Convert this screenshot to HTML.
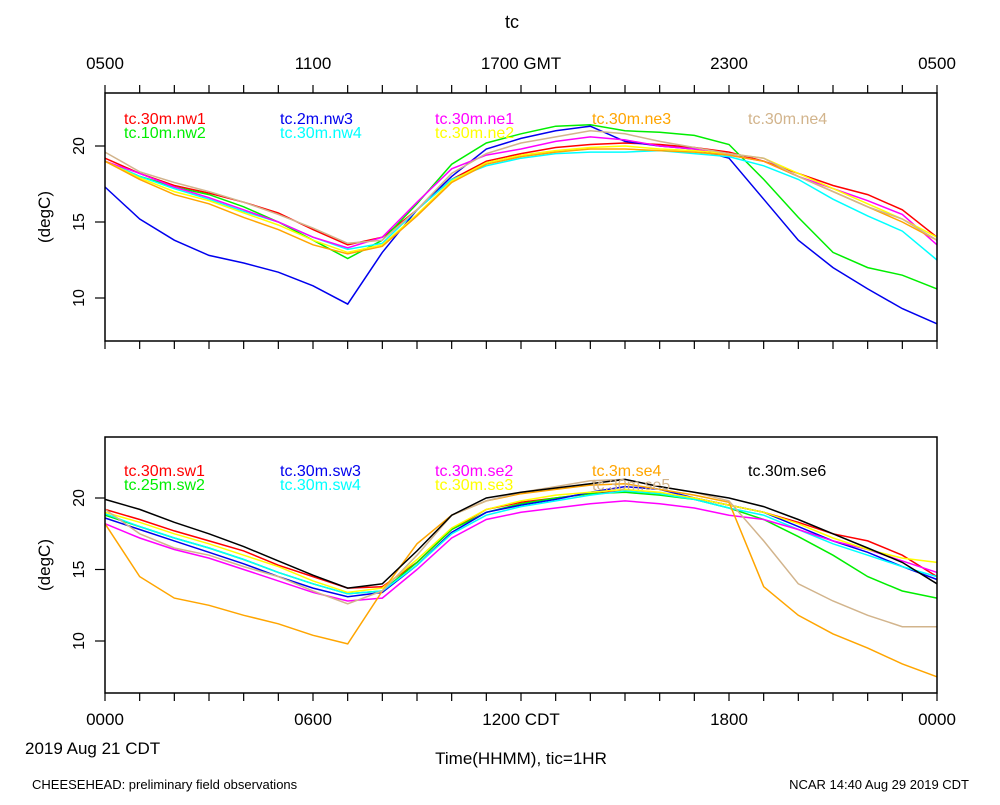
<!DOCTYPE html>
<html><head><meta charset="utf-8"><style>
body{margin:0;background:#fff}
svg text{font-family:"Liberation Sans",sans-serif}
</style></head><body>
<svg id="c" width="1000" height="800" xmlns="http://www.w3.org/2000/svg"></svg>
<script>
const hours=[0,1,2,3,4,5,6,7,8,9,10,11,12,13,14,15,16,17,18,19,20,21,22,23,24];
const topNames=["tc.30m.nw1","tc.10m.nw2","tc.2m.nw3","tc.30m.nw4","tc.30m.ne1","tc.30m.ne2","tc.30m.ne3","tc.30m.ne4"];
const topColors=["#ff0000","#00ee00","#0000ee","#00ffff","#ff00ff","#ffff00","#ffa500","#d2b48c"];
const nw1=[19.2,18.2,17.4,16.9,16.3,15.6,14.5,13.5,14.0,15.8,17.8,19.0,19.5,19.9,20.1,20.2,20.1,19.9,19.6,19.0,18.2,17.4,16.8,15.8,14.0];
const nw2=[19,18.0,17.3,16.8,16.0,15.0,13.8,12.6,13.8,16.2,18.8,20.2,20.8,21.3,21.4,21.0,20.9,20.7,20.1,17.8,15.3,13.0,12.0,11.5,10.6];
const nw3=[17.3,15.2,13.8,12.8,12.3,11.7,10.8,9.6,13.0,15.8,18.0,19.8,20.5,21.0,21.3,20.3,20.0,19.8,19.2,16.5,13.8,12.0,10.6,9.3,8.3];
const nw4=[19,18,17.2,16.5,15.7,15.0,14.0,13.2,13.6,15.8,17.8,18.7,19.2,19.5,19.6,19.6,19.7,19.5,19.3,18.7,17.8,16.5,15.4,14.4,12.5];
const ne1=[19,18.2,17.3,16.6,15.8,15.0,14.0,13.3,14.0,16.3,18.5,19.4,19.8,20.3,20.6,20.4,20.0,19.8,19.4,19.0,18.0,17.2,16.4,15.5,13.5];
const ne2=[19,17.9,17,16.4,15.6,14.8,13.8,13.0,13.5,15.5,17.7,18.9,19.4,19.7,19.9,20.0,19.8,19.7,19.5,19.2,18.2,17.2,16.2,15.2,14.0];
const ne3=[19,17.8,16.8,16.2,15.3,14.5,13.5,12.9,13.4,15.4,17.6,18.8,19.3,19.6,19.8,19.8,19.7,19.6,19.4,19.0,18.0,17.0,16.0,15.0,13.8];
const ne4=[19.6,18.3,17.6,17.0,16.3,15.5,14.6,13.6,13.8,15.8,18.2,19.5,20.2,20.6,21.0,20.8,20.3,19.9,19.5,19.2,18.0,17.0,16.0,15.2,13.8];
const botNames=["tc.30m.sw1","tc.25m.sw2","tc.30m.sw3","tc.30m.sw4","tc.30m.se2","tc.30m.se3","tc.3m.se4","tc.30m.se5","tc.30m.se6"];
const botColors=["#ff0000","#00ee00","#0000ee","#00ffff","#ff00ff","#ffff00","#ffa500","#d2b48c","#000000"];
const sw1=[19.2,18.5,17.7,17.0,16.3,15.3,14.5,13.7,13.8,15.5,17.8,19.2,19.7,20.0,20.3,20.5,20.3,20.0,19.5,19.0,18.3,17.5,17.0,16.0,14.5];
const sw2=[18.8,18.0,17.2,16.5,15.7,14.8,14.0,13.3,13.5,15.5,17.8,19.0,19.6,20.0,20.3,20.4,20.2,19.9,19.3,18.5,17.3,16.0,14.5,13.5,13.0];
const sw3=[18.6,17.8,17.0,16.2,15.4,14.5,13.7,13.1,13.4,15.3,17.6,19.0,19.5,19.9,20.4,20.8,20.6,20.0,19.5,19.0,18.0,17.0,16.2,15.2,14.3];
const sw4=[18.9,18.0,17.2,16.5,15.7,14.8,14.0,13.3,13.5,15.3,17.5,18.8,19.4,19.8,20.2,20.5,20.3,19.9,19.3,18.8,17.8,16.8,16.0,15.2,14.5];
const se2=[18.2,17.2,16.4,15.8,15.0,14.2,13.4,12.8,13.0,15.0,17.2,18.5,19.0,19.3,19.6,19.8,19.6,19.3,18.8,18.5,17.8,17.0,16.4,15.6,14.8];
const se3=[19,18.3,17.5,16.8,16,15.2,14.2,13.4,13.7,15.7,17.9,19.2,19.8,20.2,20.4,20.6,20.4,20.0,19.5,19.0,18.2,17.2,16.4,15.8,15.5];
const se4=[18.2,14.5,13.0,12.5,11.8,11.2,10.4,9.8,13.5,16.8,18.8,19.8,20.3,20.6,20.9,21.0,20.6,20.2,19.7,13.8,11.8,10.5,9.5,8.4,7.5];
const se5=[19.2,17.5,16.5,16.0,15.2,14.5,13.5,12.6,13.5,16.0,18.8,19.8,20.4,20.8,21.2,21.3,20.8,20.4,19.8,17.0,14.0,12.8,11.8,11.0,11.0];
const se6=[19.9,19.2,18.3,17.5,16.6,15.6,14.6,13.7,14.0,16.3,18.8,20.0,20.4,20.7,21.0,21.3,20.8,20.4,20.0,19.4,18.5,17.5,16.5,15.5,14.0];
const yTicks=[10,15,20];
const topXLabels=["0500","1100","1700 GMT","2300","0500"];
const botXLabels=["0000","0600","1200 CDT","1800","0000"];

const svg=document.getElementById('c');
const NS="http://www.w3.org/2000/svg";
function mk(tag,attrs,parent){const e=document.createElementNS(NS,tag);for(const k in attrs)e.setAttribute(k,attrs[k]);(parent||svg).appendChild(e);return e;}
const X0=105,X1=937;
const xs=h=>X0+(X1-X0)*h/24;
function panel(name,top,bot,v20,v10,series,names,colors,legY,topAxis,botLabels){
  const g=mk('g',{});
  
  
  const ys=v=>v10+(v-10)*(v20-v10)/10;
  series.forEach((s,i)=>{
    const pts=s.map((v,j)=>xs(hours[j]).toFixed(1)+','+ys(v).toFixed(1)).join(' ');
    const p=mk('polyline',{points:pts,fill:'none',stroke:colors[i],'stroke-width':1.5},g);
    
    
  });
  const fr=mk('rect',{x:X0,y:top,width:X1-X0,height:bot-top,fill:'none',stroke:'#000','stroke-width':1.5},g);
  
  
  for(let h=0;h<=24;h++){
    const L=8;
    if(topAxis) mk('line',{x1:xs(h),x2:xs(h),y1:top,y2:top-L,stroke:'#000','stroke-width':1.2},g);
    mk('line',{x1:xs(h),x2:xs(h),y1:bot,y2:bot+L,stroke:'#000','stroke-width':1.2},g);
  }
  yTicks.forEach(v=>{
    const y=ys(v);
    mk('line',{x1:X0,x2:X0-10,y1:y,y2:y,stroke:'#000','stroke-width':1.2},g);
    const t=mk('text',{x:0,y:0,transform:`translate(84,${y}) rotate(-90)`,'text-anchor':'middle','font-size':16},g);
    t.textContent=v;
    
    
  });
  const yl=mk('text',{x:0,y:0,transform:`translate(50,${(top+bot)/2}) rotate(-90)`,'text-anchor':'middle','font-size':17},g);
  yl.textContent='(degC)';
  
  
  const cols=[124,280,435,592,748];
  names.forEach((n,i)=>{
    let c,r;
    if(names.length===8){const order=[[0,0],[0,1],[1,0],[1,1],[2,0],[2,1],[3,0],[4,0]];[c,r]=order[i];}
    else{const order=[[0,0],[0,1],[1,0],[1,1],[2,0],[2,1],[3,0],[3,1],[4,0]];[c,r]=order[i];}
    const t=mk('text',{x:cols[c],y:legY+r*14,'font-size':16,fill:colors[i]},g);
    t.textContent=n;
    
    
  });
  if(topAxis){
    topAxis.forEach((l,i)=>{
      const t=mk('text',{x:xs(i*6),y:69,'text-anchor':'middle','font-size':17},g);
      t.textContent=l;
      
      
    });
  }
  if(botLabels){
    botLabels.forEach((l,i)=>{
      const t=mk('text',{x:xs(i*6),y:725,'text-anchor':'middle','font-size':17},g);
      t.textContent=l;
      
      
    });
  }
}
panel('top-panel',93,341,146,298,[nw1,nw2,nw3,nw4,ne1,ne2,ne3,ne4],topNames,topColors,124,topXLabels,null);
panel('bottom-panel',437,693,498,641,[sw1,sw2,sw3,sw4,se2,se3,se4,se5,se6],botNames,botColors,476,null,botXLabels);
function txt(x,y,s,size,anchor,name){const t=mk('text',{x:x,y:y,'font-size':size,'text-anchor':anchor});t.textContent=s;}
txt(512,28,'tc',18,'middle','chart-title');
txt(25,754,'2019 Aug 21 CDT',17,'start','date-label');
txt(521,764,'Time(HHMM), tic=1HR',17,'middle','x-axis-title');
txt(32,789,'CHEESEHEAD: preliminary field observations',13,'start','footer-left');
txt(969,789,'NCAR 14:40 Aug 29 2019 CDT',13,'end','footer-right');
</script>
</body></html>
